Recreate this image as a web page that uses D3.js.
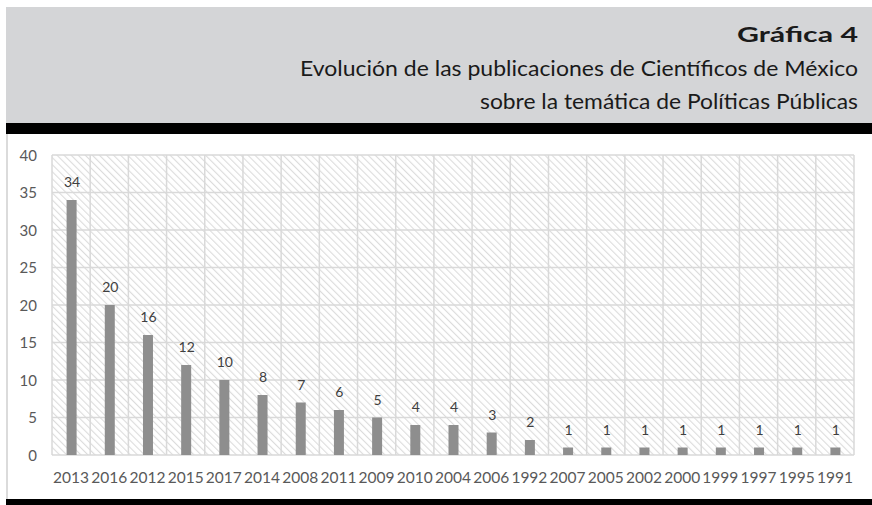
<!DOCTYPE html>
<html lang="es">
<head>
<meta charset="UTF-8">
<title>Gráfica 4</title>
<script src="https://d3js.org/d3.v7.min.js"></script>
<style>
  body { margin: 0; background: white; }
  .title { font-family: Lato, "Open Sans", sans-serif; fill: #1a1a1a; text-anchor: end; }
  .axis text { font-family: Lato, "Open Sans", sans-serif; fill: #595959; }
  .val { font-family: Lato, "Open Sans", sans-serif; fill: #404040; font-size: 14px; text-anchor: middle; }
</style>
</head>
<body>
<svg id="svg" width="872" height="505"></svg>
<script>
// data
const years = ["2013","2016","2012","2015","2017","2014","2008","2011","2009","2010","2004",
               "2006","1992","2007","2005","2002","2000","1999","1997","1995","1991"];
const counts = [34,20,16,12,10,8,7,6,5,4,4,3,2,1,1,1,1,1,1,1,1];
const yTicks = [0,5,10,15,20,25,30,35,40];
const titleLines = ["Gráfica  4",
                    "Evolución de las publicaciones de Científicos de México",
                    "sobre la temática de Políticas Públicas"];

const W = 872, H = 505;
const svg = d3.select("#svg");

// header band
svg.append("rect").attr("x", 6).attr("y", 7).attr("width", W - 6).attr("height", 117).attr("fill", "#d4d5d7");
svg.append("rect").attr("x", 6).attr("y", 123).attr("width", W - 6).attr("height", 11).attr("fill", "#000");
svg.append("rect").attr("x", 6).attr("y", 499).attr("width", W - 6).attr("height", 6).attr("fill", "#000");
svg.append("line").attr("x1", 7).attr("x2", 7).attr("y1", 134).attr("y2", 499)
   .attr("stroke", "#cfcfcf").attr("stroke-width", 1.5);

// title (widths fitted to the picture)
svg.append("text").attr("class", "title").attr("x", 858).attr("y", 42)
   .attr("font-size", 21).attr("font-weight", "bold")
   .attr("textLength", 121).attr("lengthAdjust", "spacingAndGlyphs").text(titleLines[0]);
svg.append("text").attr("class", "title").attr("x", 858).attr("y", 76)
   .attr("font-size", 22)
   .attr("textLength", 558).attr("lengthAdjust", "spacingAndGlyphs").text(titleLines[1]);
svg.append("text").attr("class", "title").attr("x", 858).attr("y", 109)
   .attr("font-size", 22)
   .attr("textLength", 378).attr("lengthAdjust", "spacingAndGlyphs").text(titleLines[2]);

// chart
const margin = {left: 52, right: 18, top: 155, bottom: 50};
const x = d3.scaleBand().domain(years).range([margin.left, W - margin.right]);
const y = d3.scaleLinear().domain([0, 40]).range([H - margin.bottom, margin.top]);

// hatch pattern (downward diagonal)
const defs = svg.append("defs");
const pat = defs.append("pattern").attr("id", "hatch").attr("patternUnits", "userSpaceOnUse")
  .attr("width", 5).attr("height", 5).attr("patternTransform", "rotate(-45)");
pat.append("rect").attr("width", 5).attr("height", 5).attr("fill", "#fff");
pat.append("line").attr("x1", 0).attr("x2", 0).attr("y1", 0).attr("y2", 5)
   .attr("stroke", "#dcdcdc").attr("stroke-width", 2.2);

svg.append("rect").attr("x", x.range()[0]).attr("y", y(40))
   .attr("width", x.range()[1] - x.range()[0]).attr("height", y(0) - y(40))
   .attr("fill", "url(#hatch)");

// grid
const grid = svg.append("g").attr("stroke", "#d9d9d9").attr("stroke-width", 1.5);
grid.selectAll(".h").data(yTicks).join("line")
  .attr("x1", x.range()[0]).attr("x2", x.range()[1])
  .attr("y1", d => y(d)).attr("y2", d => y(d));
grid.selectAll(".v").data(years.concat(["end"])).join("line")
  .attr("x1", (d, i) => x.range()[0] + i * x.step()).attr("x2", (d, i) => x.range()[0] + i * x.step())
  .attr("y1", y(40)).attr("y2", y(0));

// bars
const barW = 10;
svg.selectAll(".bar").data(counts).join("rect")
  .attr("class", "bar")
  .attr("x", (d, i) => x(years[i]) + x.bandwidth() / 2 - barW / 2 + 0.5)
  .attr("y", d => y(d))
  .attr("width", barW)
  .attr("height", d => y(0) - y(d))
  .attr("fill", "#8e8e8e");

svg.selectAll(".val").data(counts).join("text")
  .attr("class", "val")
  .attr("x", (d, i) => x(years[i]) + x.bandwidth() / 2 + 1)
  .attr("y", d => y(d) - 13)
  .text(d => d);

// axes
const yAxis = svg.append("g").attr("class", "axis")
  .attr("transform", "translate(37,0)")
  .call(d3.axisLeft(y).tickValues(yTicks).tickSize(0).tickPadding(0));
yAxis.select(".domain").remove();
yAxis.selectAll("text").attr("font-size", 15).attr("dy", "0.35em");

const xAxis = svg.append("g").attr("class", "axis")
  .attr("transform", `translate(0,${y(0)})`)
  .call(d3.axisBottom(x).tickSize(0).tickPadding(0));
xAxis.select(".domain").remove();
xAxis.selectAll("text").attr("font-size", 15).attr("dy", 0).attr("y", 28)
  .attr("textLength", 36).attr("lengthAdjust", "spacingAndGlyphs");
</script>
</body>
</html>
